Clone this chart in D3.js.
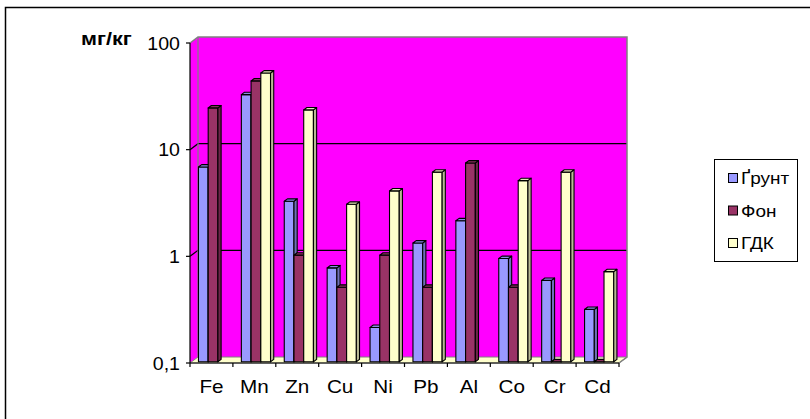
<!DOCTYPE html>
<html>
  <head>
    <meta charset="utf-8">
    <title>мг/кг</title>
    <script src="https://d3js.org/d3.v7.min.js"></script>
    <style>
      html, body { margin: 0; padding: 0; background: #fff; }
      text { font-family: "Liberation Sans", Arial, sans-serif; fill: #000; }
    </style>
  </head>
  <body>
    <div id="vis"></div>
    <script>
        const width = 810;
        const height = 419;

        // data
        const categories = ["Fe", "Mn", "Zn", "Cu", "Ni", "Pb", "Al", "Co", "Cr", "Cd"];
        const seriesNames = ["Ґрунт", "Фон", "ГДК"];
        const grunt = [6.7, 32, 3.2, 0.76, 0.21, 1.3, 2.1, 0.93, 0.58, 0.31];
        const fon   = [24, 43, 1, 0.5, 1, 0.5, 7.3, 0.5, 0.1, 0.1];
        const gdk   = [null, 51, 23, 3, 4, 6, null, 5, 6, 0.7];
        const yTicks = [0.1, 1, 10, 100];
        const yTickLabels = ["0,1", "1", "10", "100"];
        const colors = ["#9999ff", "#993366", "#ffffcc"];

        const series = [grunt, fon, gdk];

        // plot geometry (front plane + depth offset of the box)
        const x0 = 190, x1 = 619;
        const depthX = 8, depthY = -6;
        const barFront = 0.2, barDepth = 0.4;   // fractions of the box depth

        const svg = d3.select('#vis')
                      .append('svg')
                      .attr('width', width)
                      .attr('height', height);

        // outer chart frame
        svg.append('rect')
           .attr('x', 5.5).attr('y', 7.5)
           .attr('width', 900).attr('height', 900)
           .attr('fill', 'none')
           .attr('stroke', '#000')
           .attr('stroke-width', 1.5);

        const y = d3.scaleLog().domain([0.1, 100]).range([363, 43]);
        const x = d3.scaleBand().domain(categories).range([x0, x1]).padding(0);
        const groupW = x.bandwidth() * 0.68;
        const xs = d3.scaleBand().domain(d3.range(series.length)).range([0, groupW]).padding(0);

        const line = d3.line();
        const yBot = y(0.1), yTop = y(100);

        // side wall and back wall
        svg.append('path')
           .attr('d', line([[x0, yTop], [x0 + depthX, yTop + depthY], [x0 + depthX, yBot + depthY], [x0, yBot]]) + 'Z')
           .attr('fill', '#ff00ff');
        svg.append('path')
           .attr('d', line([[x0 + depthX, yTop + depthY], [x1 + depthX, yTop + depthY], [x1 + depthX, yBot + depthY], [x0 + depthX, yBot + depthY]]) + 'Z')
           .attr('fill', '#ff00ff');

        // floor
        svg.append('path')
           .attr('d', line([[x0, yBot], [x1, yBot], [x1 + depthX, yBot + depthY], [x0 + depthX, yBot + depthY]]) + 'Z')
           .attr('fill', '#ffffcc')
           .attr('stroke', '#808080')
           .attr('stroke-width', 1);

        // gridlines
        svg.append('g')
           .selectAll('path')
           .data(yTicks.filter(v => v > 0.1 && v < 100))
           .enter()
           .append('path')
           .attr('d', v => line([[x0, y(v)], [x0 + depthX, y(v) + depthY], [x1 + depthX, y(v) + depthY]]))
           .attr('fill', 'none')
           .attr('stroke', '#000')
           .attr('stroke-width', 1.2);

        // wall edges
        svg.append('path')
           .attr('d', line([[x0, yTop], [x0 + depthX, yTop + depthY], [x1 + depthX, yTop + depthY], [x1 + depthX, yBot + depthY], [x1, yBot]]))
           .attr('fill', 'none')
           .attr('stroke', '#808080')
           .attr('stroke-width', 1.5);
        svg.append('line')
           .attr('x1', x0 + depthX).attr('x2', x0 + depthX)
           .attr('y1', yTop + depthY).attr('y2', yBot + depthY)
           .attr('stroke', '#808080')
           .attr('stroke-width', 1.2);

        // bars, drawn left to right so that each front face hides its neighbour's side
        const bars = svg.append('g');
        const fdx = depthX * barFront, fdy = depthY * barFront;
        const bdx = depthX * barDepth, bdy = depthY * barDepth;
        const groupOffset = (x.bandwidth() - groupW) / 2;

        categories.forEach((c, i) => {
          series.forEach((s, j) => {
            const v = s[i];
            if (v == null) return;
            const left = x(c) + groupOffset + xs(j) + fdx;
            const right = left + xs.bandwidth();
            const top = y(Math.max(v, 0.1)) + fdy;
            const bottom = yBot + fdy;
            const base = d3.color(colors[j]);
            const g = bars.append('g')
                          .attr('stroke', '#000')
                          .attr('stroke-width', 1.1)
                          .attr('stroke-linejoin', 'round');
            // front
            g.append('path')
             .attr('d', line([[left, top], [right, top], [right, bottom], [left, bottom]]) + 'Z')
             .attr('fill', base.formatHex());
            // side
            g.append('path')
             .attr('d', line([[right, top], [right + bdx, top + bdy], [right + bdx, bottom + bdy], [right, bottom]]) + 'Z')
             .attr('fill', base.darker(0.9).formatHex());
            // top
            g.append('path')
             .attr('d', line([[left, top], [left + bdx, top + bdy], [right + bdx, top + bdy], [right, top]]) + 'Z')
             .attr('fill', base.darker(0.3).formatHex());
          });
        });

        // front axes
        svg.append('line')
           .attr('x1', x0).attr('x2', x0)
           .attr('y1', yTop).attr('y2', yBot)
           .attr('stroke', '#000').attr('stroke-width', 1.2);
        svg.append('line')
           .attr('x1', x0).attr('x2', x1)
           .attr('y1', yBot).attr('y2', yBot)
           .attr('stroke', '#000').attr('stroke-width', 1.2);

        // y ticks + labels
        const yAxis = svg.append('g');
        yAxis.selectAll('line')
             .data(yTicks)
             .enter()
             .append('line')
             .attr('x1', x0 - 4).attr('x2', x0)
             .attr('y1', d => y(d)).attr('y2', d => y(d))
             .attr('stroke', '#000').attr('stroke-width', 1.2);
        yAxis.selectAll('text')
             .data(yTicks)
             .enter()
             .append('text')
             .attr('transform', d => `translate(180,${y(d) + 6.5}) scale(1.12,1)`)
             .attr('text-anchor', 'end')
             .style('font-size', '17.5px')
             .text((d, i) => yTickLabels[i]);

        // x ticks + labels
        const xAxis = svg.append('g');
        xAxis.selectAll('line')
             .data(categories.concat(['end']))
             .enter()
             .append('line')
             .attr('x1', (d, i) => x0 + i * x.step())
             .attr('x2', (d, i) => x0 + i * x.step())
             .attr('y1', yBot).attr('y2', yBot + 4)
             .attr('stroke', '#000').attr('stroke-width', 1.2);
        xAxis.selectAll('text')
             .data(categories)
             .enter()
             .append('text')
             .attr('transform', d => `translate(${x(d) + x.bandwidth() / 2},393) scale(1.15,1)`)
             .attr('text-anchor', 'middle')
             .style('font-size', '18px')
             .text(d => d);

        // unit label
        svg.append('text')
           .attr('transform', 'translate(81,45) scale(1.2,1)')
           .style('font-size', '18px')
           .style('font-weight', 'bold')
           .text('мг/кг');

        // legend
        const legend = svg.append('g');
        legend.append('rect')
              .attr('x', 714.5).attr('y', 159.5)
              .attr('width', 83).attr('height', 102)
              .attr('fill', '#fff')
              .attr('stroke', '#000')
              .attr('stroke-width', 1);
        const items = legend.selectAll('g')
                            .data(seriesNames)
                            .enter()
                            .append('g')
                            .attr('transform', (d, i) => `translate(728,${178 + i * 32.5})`);
        items.append('rect')
             .attr('x', 0.5).attr('y', -4.5)
             .attr('width', 9).attr('height', 9)
             .attr('fill', (d, i) => colors[i])
             .attr('stroke', '#000')
             .attr('stroke-width', 1);
        items.append('text')
             .attr('transform', 'translate(13,6) scale(1.15,1)')
             .style('font-size', '16.5px')
             .text(d => d);
    </script>
  </body>
</html>
